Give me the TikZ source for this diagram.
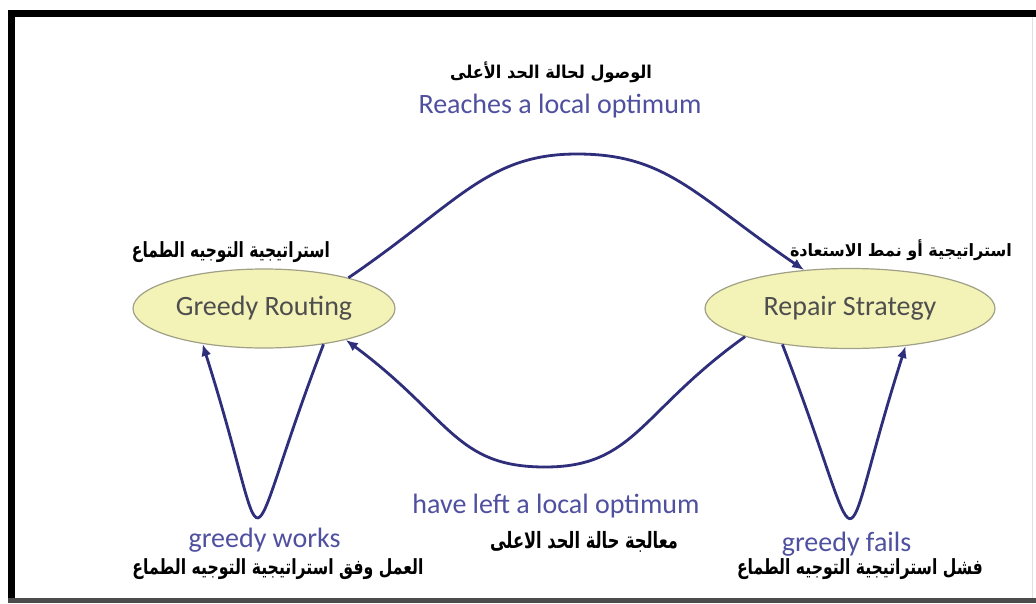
\documentclass[tikz,border=0pt]{standalone}
\usepackage{fontspec}
\usepackage{graphicx}
\usetikzlibrary{arrows.meta,shapes.geometric}
\setmainfont{Carlito}
\newfontfamily\arabicfont[Script=Arabic]{DejaVu Sans}
\TeXXeTstate=1
\definecolor{arrowblue}{RGB}{46,46,122}
\definecolor{labelblue}{RGB}{80,80,160}
\definecolor{statefill}{RGB}{243,243,184}
\definecolor{stateedge}{RGB}{160,160,135}
\definecolor{statetext}{RGB}{78,78,78}
% Arabic caption scaled to a given width and total height
\newcommand{\arlabel}[2]{\resizebox*{#1}{21pt}{\arabicfont\bfseries #2}}

\begin{document}
\begin{tikzpicture}[x=1pt,y=-1pt,
  state/.style={ellipse, draw=stateedge, line width=1.2pt, fill=statefill,
    text=statetext, inner sep=0pt, font=\fontsize{28}{32}\selectfont},
  edgelabel/.style={text=labelblue, inner sep=0pt, anchor=base,
    font=\fontsize{28}{32}\selectfont},
  arnote/.style={inner sep=0pt, text=black},
  flow/.style={draw=arrowblue, line width=2.8pt, -{Latex[length=12pt,width=10pt]}}
]
\useasboundingbox (0,0) rectangle (1036,603);
\fill[white] (0,0) rectangle (1036,603);

% frame
\fill[black] (8,10) rectangle (1036,17);
\fill[black] (8,10) rectangle (15,603);
\fill[black!70] (8,598) rectangle (1036,603);
\draw[black!12, line width=0.8pt] (1032,17) -- (1032,598);

% states
\node[state, minimum width=262pt, minimum height=79pt] (gr) at (264,308.5) {Greedy Routing};
\node[state, minimum width=290pt, minimum height=80pt] (rs) at (850,308.5) {Repair Strategy};

% transitions
\coordinate (topPeak) at (577,154);
\coordinate (botDip) at (545,467);
\draw[flow] (gr.20) .. controls +(110,-75) and +(-90,0) .. (topPeak)
                    .. controls +(90,0) and +(-110,-75) .. (rs.140);
\draw[flow] (rs.195) .. controls +(-105,75) and +(90,0) .. (botDip)
                     .. controls +(-90,0) and +(105,78) .. (gr.-21);
\draw[flow] (gr.-31) .. controls +(-88,230) and +(73,230) .. (gr.210);
\draw[flow] (rs.208) .. controls +(89,230) and +(-73,229) .. (rs.-34);

% English labels
\node[edgelabel] (reachLbl) at (560,113) {Reaches a local optimum};
\node[edgelabel] (leftLbl) at (556,513) {have left a local optimum};
\node[edgelabel] (worksLbl) at (264.5,547) {greedy works};
\node[edgelabel] (failsLbl) at (846.5,551) {greedy fails};

% Arabic captions
\node[arnote] (reachAr) at (551,72) {\arlabel{202pt}{\beginR الوصول لحالة الحد الأعلى\endR}};
\node[arnote] (grAr) at (231,252) {\arlabel{198pt}{\beginR استراتيجية التوجيه الطماع\endR}};
\node[arnote] (rsAr) at (901,250) {\arlabel{222pt}{\beginR استراتيجية أو نمط الاستعادة\endR}};
\node[arnote] (leftAr) at (584,542) {\arlabel{188pt}{\beginR معالجة حالة الحد الاعلى\endR}};
\node[arnote] (worksAr) at (278,569) {\arlabel{291pt}{\beginR العمل وفق استراتيجية التوجيه الطماع\endR}};
\node[arnote] (failsAr) at (860,569) {\arlabel{246pt}{\beginR فشل استراتيجية التوجيه الطماع\endR}};
\end{tikzpicture}
\end{document}
